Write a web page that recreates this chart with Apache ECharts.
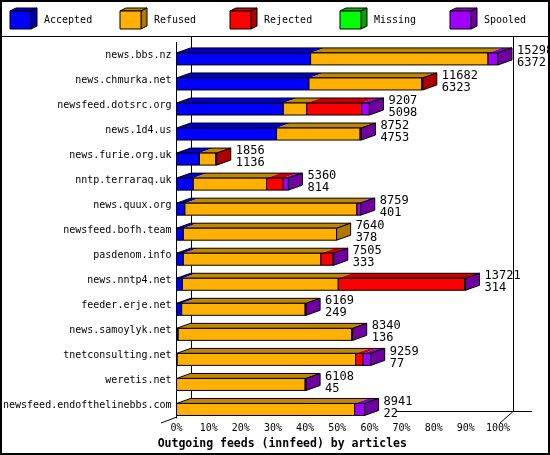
<!DOCTYPE html>
<html><head><meta charset="utf-8">
<script src="https://cdn.jsdelivr.net/npm/echarts@6/dist/echarts.min.js"></script>
<style>html,body{margin:0;padding:0;background:#fff}#c{width:550px;height:455px}</style>
</head><body><div id="c"></div>
<script>
const hosts = ['news.bbs.nz','news.chmurka.net','newsfeed.dotsrc.org','news.1d4.us','news.furie.org.uk','nntp.terraraq.uk','news.quux.org','newsfeed.bofh.team','pasdenom.info','news.nntp4.net','feeder.erje.net','news.samoylyk.net','tnetconsulting.net','weretis.net','newsfeed.endofthelinebbs.com'];
const seriesNames = ['Accepted','Refused','Rejected','Missing','Spooled'];
// percentages of the largest feed (bar lengths)
const accepted = [41.7,41.2,33.2,31.1,7.1,5.2,2.6,2.1,2.1,1.8,1.6,0.5,0.2,0,0];
const refused  = [55.2,35.1,7.3,26.0,5.1,22.8,53.5,47.7,42.8,48.5,38.4,54.0,55.5,40.0,55.4];
const rejected = [0,0.3,17.1,0,0.3,5.2,0,0,3.7,39.3,0,0,2.3,0,0];
const missing  = [0,0,0,0,0,0,0,0,0,0,0,0,0,0,0];
const spooled  = [3.1,0,2.4,0.4,0,1.6,1.2,0,0.3,0.3,0.3,0.3,2.4,0.3,3.1];
const offered  = [15298,11682,9207,8752,1856,5360,8759,7640,7505,13721,6169,8340,9259,6108,8941];
const acceptedCount = [6372,6323,5098,4753,1136,814,401,378,333,314,249,136,77,45,22];
const xTicks = [0,10,20,30,40,50,60,70,80,90,100];

const front = ['#0000ff','#ffb000','#ff0000','#00ff00','#a000ff'];
const side  = ['#0000a8','#b07800','#b00000','#00a000','#7000a0'];
const top_  = ['#0000c8','#c08800','#c80000','#00c000','#8800c8'];
const segs = [accepted,refused,rejected,missing,spooled];
const DX=14, DY=5, FONT='"DejaVu Sans Mono", monospace';

function renderItem(params, api){
  const i = api.value(0);
  const base = api.coord([0,i]);
  const c = base[1];
  const y1=c-2, y2=c+10;
  const children=[];
  let cum=0, last=-1, xs=[];
  for(let s=0;s<segs.length;s++){
    const v=segs[s][i]; if(!v) continue;
    const xa=api.coord([cum,i])[0]; cum+=v; const xb=api.coord([cum,i])[0];
    xs.push([s,xa,xb]); last=s;
  }
  const x0=base[0], xe=api.coord([cum,i])[0];
  xs.forEach(([s,xa,xb])=>{
    children.push({type:'polygon',shape:{points:[[xa,y1],[xb,y1],[xb+DX,y1-DY],[xa+DX,y1-DY]]},style:{fill:top_[s],stroke:null}});
  });
  children.push({type:'polygon',shape:{points:[[x0,y1],[xe,y1],[xe+DX,y1-DY],[x0+DX,y1-DY]]},style:{fill:null,stroke:'#000',lineWidth:1}});
  xs.forEach(([s,xa,xb])=>{
    children.push({type:'rect',shape:{x:xa,y:y1,width:xb-xa,height:y2-y1},style:{fill:front[s],stroke:'#000',lineWidth:1}});
  });
  if(last>=0) children.push({type:'polygon',shape:{points:[[xe,y1],[xe+DX,y1-DY],[xe+DX,y2-DY],[xe,y2]]},style:{fill:side[last],stroke:'#000',lineWidth:1}});
  children.push({type:'text',style:{x:xe+19,y:c-4,text:String(offered[i]),font:'12px '+FONT,fill:'#000',verticalAlign:'middle'}});
  children.push({type:'text',style:{x:xe+19,y:c+8,text:String(acceptedCount[i]),font:'12px '+FONT,fill:'#000',verticalAlign:'middle'}});
  return {type:'group',children};
}

const legendG=[];
seriesNames.forEach((n,k)=>{
  const bx=10+k*110, by=11;
  legendG.push({type:'polygon',shape:{points:[[bx,by],[bx+21,by],[bx+27,by-3],[bx+6,by-3]]},style:{fill:top_[k],stroke:'#000'}});
  legendG.push({type:'polygon',shape:{points:[[bx+21,by],[bx+27,by-3],[bx+27,by+15],[bx+21,by+18]]},style:{fill:side[k],stroke:'#000'}});
  legendG.push({type:'rect',shape:{x:bx,y:by,width:21,height:18},style:{fill:front[k],stroke:'#000'}});
  legendG.push({type:'text',style:{x:bx+34,y:20,text:n,font:'10px '+FONT,fill:'#000',verticalAlign:'middle'}});
});
const frame=[
  {type:'rect',shape:{x:1,y:1,width:548,height:453},style:{fill:null,stroke:'#000',lineWidth:2}},
  {type:'line',shape:{x1:0,y1:36.5,x2:550,y2:36.5},style:{stroke:'#000',lineWidth:1}},
  {type:'line',shape:{x1:191.5,y1:37,x2:191.5,y2:411},style:{stroke:'#000',lineWidth:1}},
  {type:'line',shape:{x1:513.5,y1:37,x2:513.5,y2:411},style:{stroke:'#000',lineWidth:1}},
  {type:'line',shape:{x1:161,y1:423,x2:177,y2:417},style:{stroke:'#000',lineWidth:1}},
  {type:'line',shape:{x1:500,y1:423,x2:513.5,y2:411},style:{stroke:'#000',lineWidth:1}},
  {type:'line',shape:{x1:396,y1:411.5,x2:532,y2:411.5},style:{stroke:'#000',lineWidth:1}}
];

const chart=echarts.init(document.getElementById('c'));
chart.setOption({
  animation:false,
  grid:{left:176.5,right:52,top:42.4,bottom:35},
  xAxis:{type:'value',min:0,max:100,interval:10,
    axisLine:{show:false},axisTick:{show:false},splitLine:{show:false},
    axisLabel:{formatter:'{value}%',margin:5,fontFamily:FONT,fontSize:10,color:'#000'},
    name:'Outgoing feeds (innfeed) by articles',nameLocation:'middle',nameGap:20,
    nameTextStyle:{fontFamily:FONT,fontSize:11.5,fontWeight:'bold',color:'#000',padding:[0,110,0,0]}},
  yAxis:{type:'category',data:hosts,inverse:true,
    axisLine:{show:true,lineStyle:{color:'#000'}},axisTick:{show:false},
    axisLabel:{margin:5,fontFamily:FONT,fontSize:10,color:'#000'}},
  graphic:legendG.concat(frame),
  series:[{type:'custom',renderItem,data:hosts.map((h,i)=>[i]),encode:{y:0}}]
});
</script></body></html>
